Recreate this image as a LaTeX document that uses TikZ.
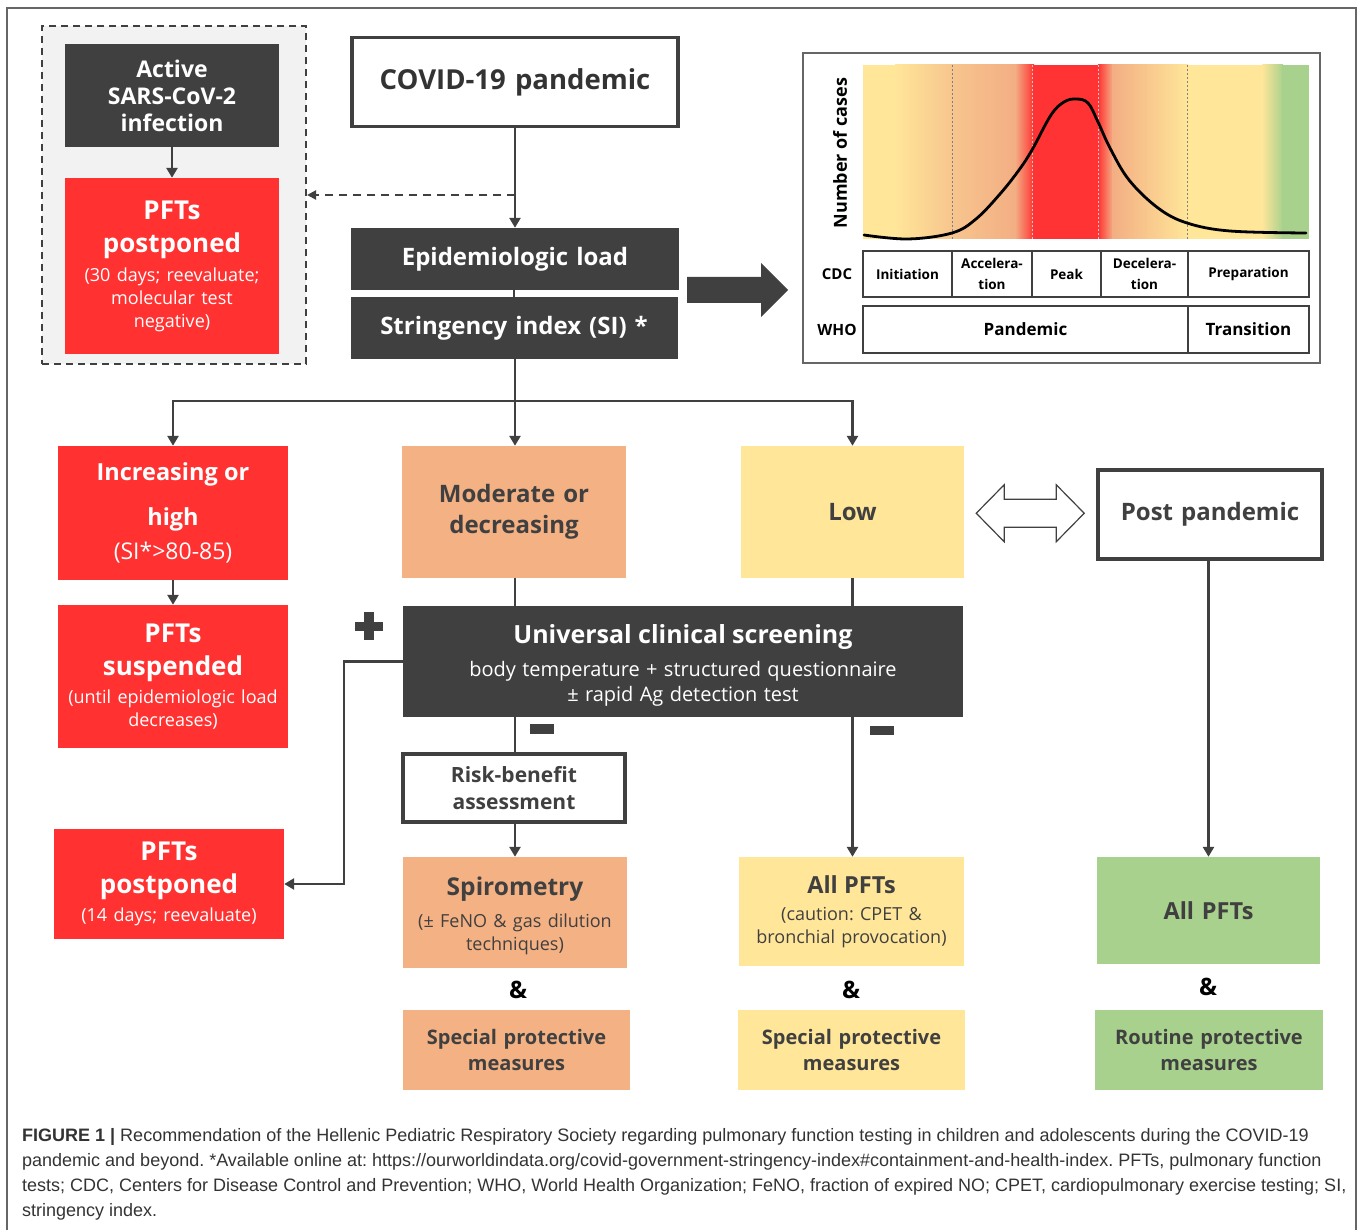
\documentclass[tikz,border=0pt]{standalone}
\usepackage{fontspec}
\setmainfont{Open Sans}
\newfontfamily\capfont{Liberation Sans}
\usetikzlibrary{arrows.meta,calc}

\definecolor{darkc}{HTML}{404040}
\definecolor{redc}{HTML}{FF3131}
\definecolor{orgc}{HTML}{F4B183}
\definecolor{yelc}{HTML}{FFE699}
\definecolor{grnc}{HTML}{A9D18E}
\definecolor{grayfill}{HTML}{F2F2F2}
\definecolor{salc}{HTML}{F3AE83}
\definecolor{ltorg}{HTML}{F7C58E}
\definecolor{chartred}{HTML}{FF3333}

\newcommand{\bigt}{\fontsize{26}{33}\selectfont\bfseries}
\newcommand{\subt}{\fontsize{18}{23}\selectfont}

\tikzset{
  sz/.style 2 args={minimum width=#1, minimum height=#2, text width=#1},
  box/.style={rectangle, inner sep=0pt, align=center, font=\fontsize{19}{23}\selectfont},
  darkbox/.style={box, fill=darkc, text=white},
  redbox/.style={box, fill=redc, text=white},
  orgbox/.style={box, fill=orgc, text=darkc},
  yelbox/.style={box, fill=yelc, text=darkc},
  grnbox/.style={box, fill=grnc, text=darkc},
  framebox/.style={box, draw=darkc, line width=3.5pt, fill=white, text=darkc},
  cell/.style={box, draw=darkc, line width=1.8pt, text=black,
    font=\bfseries\fontsize{13.5}{21}\selectfont},
  conn/.style={draw=darkc, line width=2.6pt},
  arr/.style={conn, -{Triangle[length=10pt,width=11pt]}},
  capline/.style={anchor=west, inner sep=0pt, text=black!80,
    font=\capfont\fontsize{18}{22}\selectfont},
}

\begin{document}
\frenchspacing
\begin{tikzpicture}[x=1pt,y=-1pt]

\useasboundingbox (0,0) rectangle (1358,1230);

% frame
\draw[gray!80!black, line width=1.3pt]
(7,1230)
--
(7,8)
--
(1356,8)
--
(1356,1230);

% active infection
\node[box, draw=darkc, line width=2pt, dash pattern=on 7pt off 5pt,
  fill=grayfill, minimum width=264pt, minimum height=338pt] (grp) at (174,195) {};

\node[darkbox, sz={214pt}{103pt}, font=\bfseries\fontsize{23}{27}\selectfont]
  (active) at (172,95.5) {Active\\SARS-CoV-2\\infection};

\node[redbox, sz={214pt}{176pt}] (postA) at (172,266)
  {{\bigt PFTs\\postponed\par}\vspace{6pt}{\subt (30 days; reevaluate;\\molecular test\\negative)\par}};

\draw[arr] (active) -- (postA);

% pandemic
\node[framebox, sz={326pt}{89pt}, font=\bfseries\fontsize{27.5}{33}\selectfont, text=darkc!80!black]
  (covid) at (515,82) {COVID-19 pandemic};

\node[darkbox, sz={328pt}{62pt}, font=\bfseries\fontsize{24}{30}\selectfont]
  (epi) at (515,259) {Epidemiologic load};

\node[darkbox, sz={327pt}{62pt}, font=\bfseries\fontsize{24}{30}\selectfont]
  (si) at (514,328) {Stringency index (SI) *};

\coordinate (dashfrom) at (515,195);
\draw[arr] (covid) -- (epi);
\draw[conn, line width=2pt, dash pattern=on 8pt off 6pt, -{Triangle[length=9pt,width=9pt]}]
  (dashfrom) -- (grp.east);
\draw[conn] (epi.south -| si.north) -- (si.north);

% fat arrow
\fill[darkc]
(687,277)
--
(761,277)
--
(761,263)
--
(788,290)
--
(761,317)
--
(761,303)
--
(687,303)
--
cycle;

% epidemic curve
\draw[gray!80!black, line width=1.6pt] (803,53) rectangle (1320,363);

\fill[yelc] (863,65) rectangle (896,239);
\shade[left color=yelc, right color=ltorg] (895,65) rectangle (953,239);
\shade[left color=ltorg, right color=salc] (952,65) rectangle (1016,239);
\shade[left color=salc, right color=chartred] (1015,65) rectangle (1034,239);
\fill[chartred] (1033,65) rectangle (1099,239);
\shade[left color=chartred, right color=salc] (1098,65) rectangle (1113,239);
\shade[left color=salc, right color=yelc] (1112,65) rectangle (1188,239);
\fill[yelc] (1187,65) rectangle (1263,239);
\shade[left color=yelc, right color=grnc] (1262,65) rectangle (1283,239);
\fill[grnc] (1282,65) rectangle (1309,239);

\foreach \xx in {952,1187}
  \draw[gray, line width=0.5pt, dash pattern=on 2pt off 2pt] (\xx,65) -- (\xx,239);
\foreach \xx in {1032,1098}
  \draw[gray!40, line width=0.5pt, dash pattern=on 2pt off 2pt] (\xx,65) -- (\xx,239);

\draw[black, line width=2.8pt, line cap=round]
  plot[smooth, tension=0.6] coordinates {
  (864,235) (908,239) (952,233) (976,219) (1000,194) (1019,170)
  (1032,150) (1051,115) (1064,102) (1076,99) (1088,103) (1098,122)
  (1110,148) (1129,180) (1158,208) (1187,223) (1230,231) (1306,233)};

\node[rotate=90, font=\bfseries\fontsize{18}{22}\selectfont, text=black]
  (cases) at (840,153) {Number of cases};

% phases
\node[font=\bfseries\fontsize{15}{20}\selectfont] (cdc) at (837,274) {CDC};
\node[font=\bfseries\fontsize{15.5}{20}\selectfont] (who) at (837,330) {WHO};

\node[cell, sz={89pt}{46pt}] (ph1) at (907.5,274) {Initiation};
\node[cell, sz={80pt}{46pt}] (ph2) at (992,274) {Accelera-\\tion};
\node[cell, sz={69pt}{46pt}] (ph3) at (1066.5,274) {Peak};
\node[cell, sz={87pt}{46pt}] (ph4) at (1144.5,274) {Decelera-\\tion};
\node[cell, sz={121pt}{46pt}] (ph5) at (1248.5,274) {Preparation};

\node[cell, sz={325pt}{47pt}, font=\bfseries\fontsize{17}{21}\selectfont]
  (pand) at (1025.5,329.5) {Pandemic};
\node[cell, sz={121pt}{47pt}, font=\bfseries\fontsize{17}{21}\selectfont]
  (trans) at (1248.5,329.5) {Transition};

% levels
\node[redbox, sz={230pt}{134pt}] (incr) at (173,513)
  {{\bfseries\fontsize{23.5}{45}\selectfont Increasing or\\high\par}{\fontsize{23}{34}\selectfont (SI*>80-85)\par}};

\node[orgbox, sz={224pt}{132pt}, font=\bfseries\fontsize{24}{31}\selectfont]
  (mod) at (514,512) {Moderate or\\decreasing};

\node[yelbox, sz={223pt}{132pt}, font=\bfseries\fontsize{24}{31}\selectfont]
  (low) at (852.5,512) {Low};

\node[framebox, sz={224pt}{89pt}, font=\bfseries\fontsize{24}{31}\selectfont]
  (post) at (1210,514.5) {Post pandemic};

\coordinate (split) at (515,401);
\draw[conn] (si.south -| split) -- (split);
\draw[arr] (split) -| (incr.north);
\draw[arr] (split) -- (split |- mod.north);
\draw[arr] (split) -| (low.north);

% double arrow
\coordinate (dblc) at ($(low.east)!0.5!(post.west)$);
\draw[darkc, line width=1.2pt, fill=white, line join=miter]
  ($(dblc)+(-54,0)$)
  --
  ++(28,-28.5)
  --
  ++(0,14.5)
  --
  ++(52,0)
  --
  ++(0,-14.5)
  --
  ++(28,28.5)
  --
  ++(-28,28.5)
  --
  ++(0,-14.5)
  --
  ++(-52,0)
  --
  ++(0,14.5)
  --
  cycle;

% high
\node[redbox, sz={230pt}{143pt}] (susp) at (173,676.5)
  {{\bigt PFTs\\suspended\par}\vspace{5pt}{\subt (until epidemiologic load\\decreases)\par}};
\draw[arr] (incr) -- (susp);

% screening
\node[darkbox, sz={560pt}{111pt}] (univ) at (683,661.5)
  {{\bfseries\fontsize{25}{36}\selectfont\rule{0pt}{26pt}Universal clinical screening\par}\vspace{8pt}%
   {\fontsize{20}{25}\selectfont body temperature + structured questionnaire\\± rapid Ag detection test\par}};

\draw[conn] (mod.south -| split) -- (univ.north -| split);
\draw[conn] (low.south) -- (univ.north -| low.south);

\fill[darkc] (355,622) rectangle (383,631);
\fill[darkc] (364,612) rectangle (374,640);
\fill[darkc] (530,724) rectangle (554,734);
\fill[darkc] (870,726) rectangle (894,735);

% moderate
\node[framebox, sz={222pt}{68pt}, font=\bfseries\fontsize{21}{27}\selectfont]
  (risk) at (514,788) {Risk-benefit\\assessment};

\node[redbox, sz={230pt}{110pt}] (postB) at (169,884)
  {{\bigt PFTs\\postponed\par}\vspace{5pt}{\subt (14 days; reevaluate)\par}};

\node[orgbox, sz={224pt}{111pt}] (spiro) at (515,912.5)
  {{\bfseries\fontsize{24.5}{34}\selectfont\rule{0pt}{25pt}Spirometry\par}\vspace{9pt}{\subt (± FeNO \& gas dilution\\techniques)\par}};

\draw[arr] (univ.west) -- ++(-59,0) |- (postB.east);
\draw[conn] (univ.south -| split) -- (risk.north -| split);
\draw[arr] (risk.south -| split) -- (spiro.north -| split);

% low
\node[yelbox, sz={225pt}{109pt}] (allY) at (851.5,911.5)
  {{\bfseries\fontsize{23.5}{31}\selectfont All PFTs\par}\vspace{4pt}{\subt (caution: CPET \&\\bronchial provocation)\par}};
\draw[arr] (univ.south -| low.south) -- (allY.north -| low.south);

% post pandemic
\node[grnbox, sz={223pt}{107pt}, font=\bfseries\fontsize{23.5}{31}\selectfont]
  (allG) at (1208.5,910.5) {All PFTs};
\draw[arr] (post.south -| allG.north) -- (allG.north);

% protective measures
\node[font=\bfseries\fontsize{24}{30}\selectfont, text=black] (ampA) at (518,990) {\&};
\node[font=\bfseries\fontsize{24}{30}\selectfont, text=black] (ampB) at (851,990) {\&};
\node[font=\bfseries\fontsize{24}{30}\selectfont, text=black] (ampC) at (1208,987) {\&};

\node[orgbox, sz={227pt}{80pt}, font=\bfseries\fontsize{20}{26}\selectfont]
  (protA) at (516.5,1050) {Special protective\\measures};
\node[yelbox, sz={227pt}{80pt}, font=\bfseries\fontsize{20}{26}\selectfont]
  (protB) at (851.5,1050) {Special protective\\measures};
\node[grnbox, sz={228pt}{80pt}, font=\bfseries\fontsize{20}{26}\selectfont]
  (protC) at (1209,1050) {Routine protective\\measures};

% caption
\node[capline] (cap1) at (22,1137) {\textbf{FIGURE 1 |} Recommendation of the Hellenic Pediatric Respiratory Society regarding pulmonary function testing in children and adolescents during the COVID-19};
\node[capline] (cap2) at (22,1162) {pandemic and beyond. *Available online at: https://ourworldindata.org/covid-government-stringency-index\#containment-and-health-index. PFTs, pulmonary function};
\node[capline] (cap3) at (22,1187) {tests; CDC, Centers for Disease Control and Prevention; WHO, World Health Organization; FeNO, fraction of expired NO; CPET, cardiopulmonary exercise testing; SI,};
\node[capline] (cap4) at (22,1212) {stringency index.};

\end{tikzpicture}
\end{document}
